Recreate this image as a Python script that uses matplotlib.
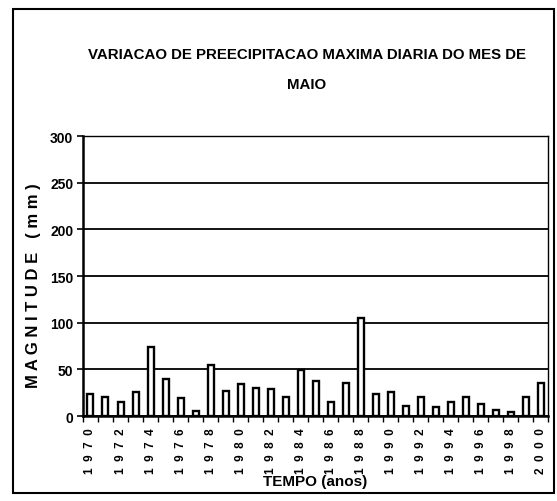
"""Recreate the maximum daily precipitation chart for May (1970-2000)."""

import matplotlib
matplotlib.use("Agg")
import matplotlib.pyplot as plt
from matplotlib.patches import Rectangle

years = list(range(1970, 2001))
precip_mm = [24, 21, 15, 26, 74, 40, 19, 6, 55, 27, 34, 30, 29, 21, 49, 38,
             15, 36, 105, 24, 26, 11, 21, 10, 15, 21, 13, 7, 4, 20, 35]
# Excel style spaced-out labels, every other year
year_labels = ["  ".join(str(y)) if y % 2 == 0 else "" for y in years]
y_ticks = [0, 50, 100, 150, 200, 250, 300]

plt.rcParams["font.family"] = ["Liberation Sans", "DejaVu Sans"]

fig = plt.figure(figsize=(5.57, 5.02), dpi=100)
ax = fig.add_axes([0.149, 0.169, 0.835, 0.558])

x = list(range(len(years)))
ax.bar(x, precip_mm, width=0.4, color="white", edgecolor="black", linewidth=1.7, zorder=3)

ax.set_ylim(0, 300)
ax.set_xlim(-0.5, len(years) - 0.5)
ax.set_yticks(y_ticks)
ax.set_yticklabels([str(t) for t in y_ticks], fontsize=10, fontweight="bold")
ax.set_xticks(x)
ax.set_xticklabels(year_labels, rotation=90, fontsize=8.5, fontweight="bold")
ax.set_xticks([i - 0.5 for i in range(len(years) + 1)], minor=True)
ax.tick_params(axis="x", which="major", length=0, pad=8)
ax.tick_params(axis="x", which="minor", length=4, width=1)
ax.tick_params(axis="y", length=4, width=1.2, pad=3)

ax.grid(axis="y", color="black", linewidth=1.3, zorder=0)
for side in ["left", "bottom"]:
    ax.spines[side].set_linewidth(1.8)
for side in ["top", "right"]:
    ax.spines[side].set_linewidth(1.0)

ax.set_ylabel("M A G N I T U D E   ( m m )", fontsize=12, fontweight="bold", labelpad=8)
ax.yaxis.set_label_coords(-0.09, 0.47)
ax.text(0.5, -0.232, "TEMPO (anos)", transform=ax.transAxes, ha="center", va="center",
        fontsize=11, fontweight="bold")

fig.text(0.551, 0.890, "VARIACAO DE PREECIPITACAO MAXIMA DIARIA DO MES DE",
         ha="center", va="center", fontsize=10.8, fontweight="bold")
fig.text(0.551, 0.831, "MAIO", ha="center", va="center", fontsize=10.8, fontweight="bold")

# outer chart border
fig.patches.append(Rectangle((0.023, 0.016), 0.972, 0.964, transform=fig.transFigure,
                             fill=False, edgecolor="black", linewidth=1.5))

fig.savefig("out.png", dpi=100)
